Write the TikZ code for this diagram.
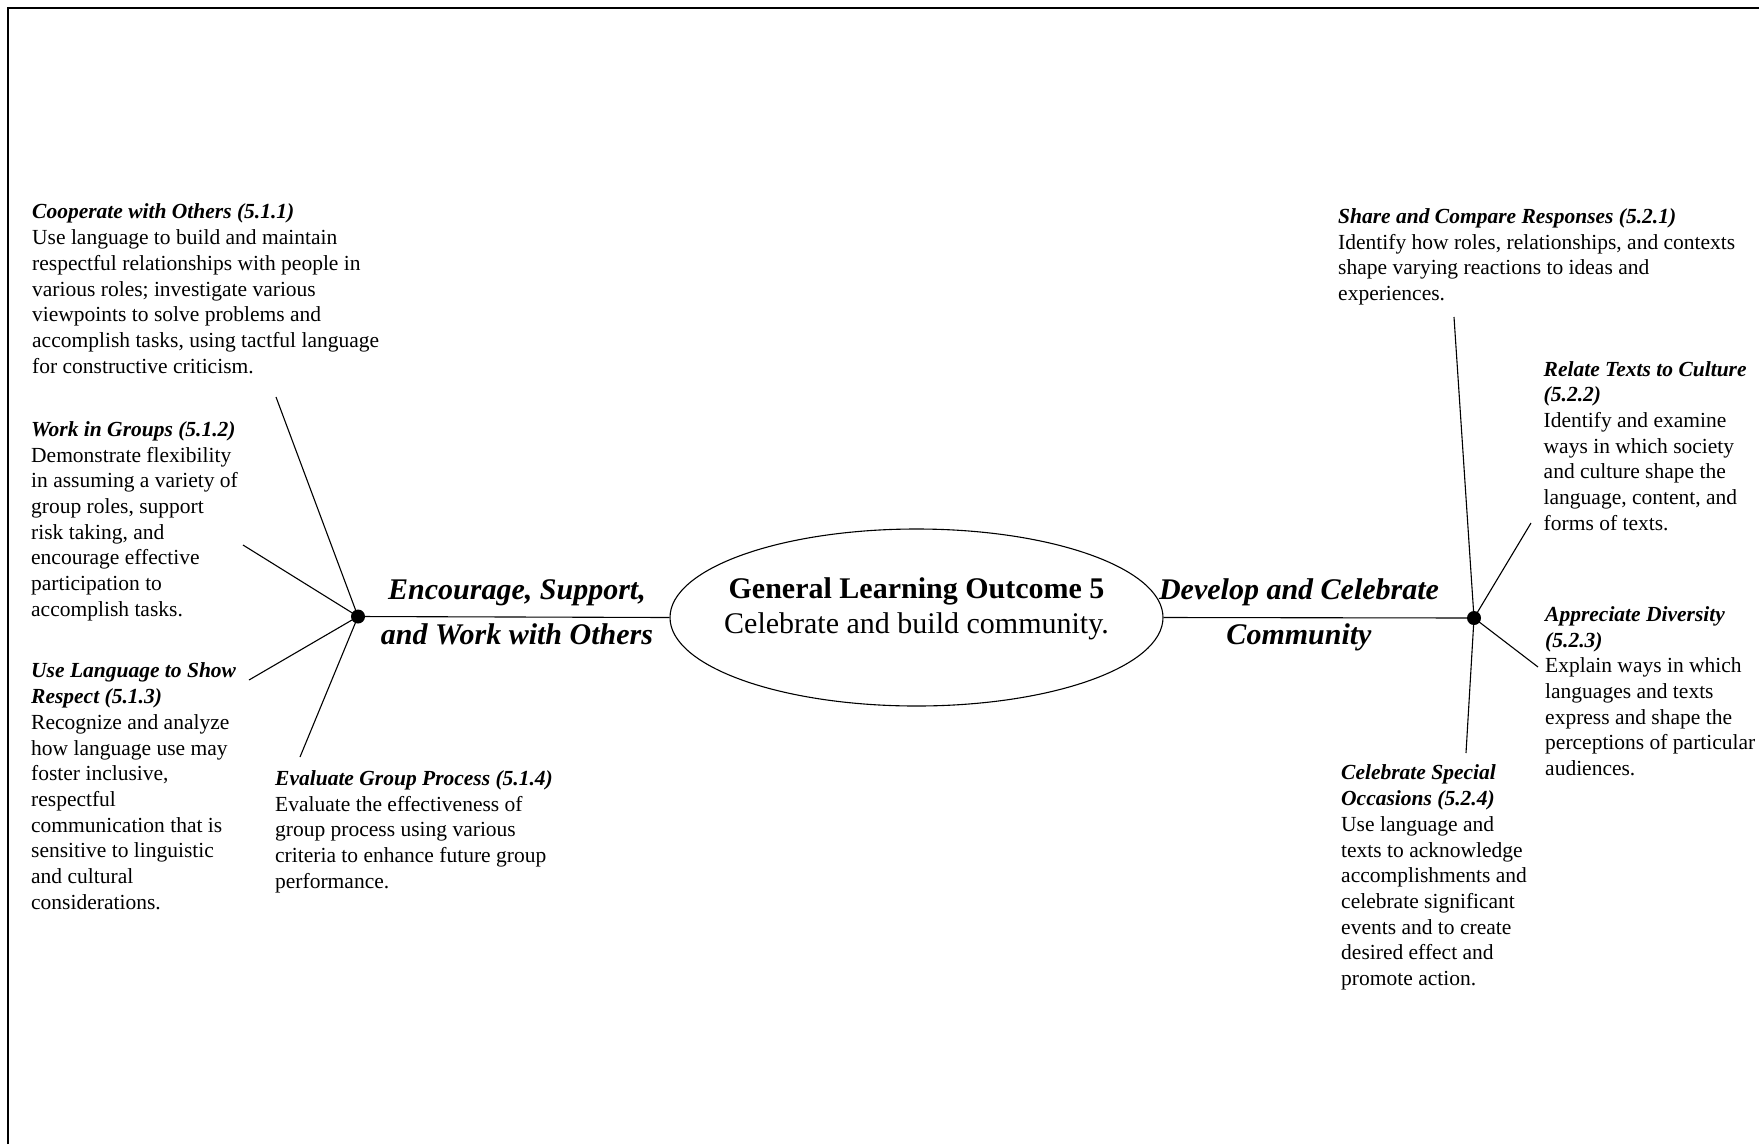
\documentclass[tikz,border=0pt]{standalone}
\usepackage{fontspec}
\setmainfont{Liberation Serif}
\usetikzlibrary{shapes.geometric}
\tikzset{
  body/.style={anchor=north west, inner sep=0pt, align=left, font=\fontsize{21.5}{25.7}\selectfont},
  branch/.style={anchor=base, inner sep=0pt, font=\fontsize{30}{36}\selectfont\bfseries\itshape},
  centre/.style={anchor=base, inner sep=0pt, font=\fontsize{30}{36}\selectfont},
  spoke/.style={line width=1.1pt},
  hub/.style={circle, fill=black, inner sep=0pt, minimum size=14pt},
  frame/.style={line width=2pt},
}
\newcommand{\ttl}[1]{\textbf{\textit{#1}}}
\begin{document}
\begin{tikzpicture}[x=1pt,y=-1pt]
\useasboundingbox (0,0) rectangle (1759,1144);
% frame
\coordinate (fb) at (7.5,1144);
\coordinate (fc) at (7.5,7.5);
\coordinate (fr) at (1759,7.5);
\draw[frame] (fb) -- (fc) -- (fr);

% central ellipse
\node[draw, ellipse, line width=1.1pt, minimum width=493pt, minimum height=177pt, inner sep=0pt] (glo) at (916.5,617.5) {};
\node[centre, font=\fontsize{30}{36}\selectfont\bfseries] (glotitle) at (916.5,598.5) {General Learning Outcome 5};
\node[centre] (glotext) at (916.5,633.5) {Celebrate and build community.};

% hubs
\node[hub] (lhub) at (358,616.5) {};
\node[hub] (rhub) at (1474,618) {};
\draw[spoke] (lhub.center) -- (glo.west);
\draw[spoke] (glo.east) -- (rhub.center);

% branch labels
\node[branch] (lb1) at (517,599.5) {Encourage, Support,};
\node[branch] (lb2) at (517,644.5) {and Work with Others};
\node[branch] (rb1) at (1299,599.5) {Develop and Celebrate};
\node[branch] (rb2) at (1299,644.5) {Community};

% left spokes
\coordinate (l1) at (276,397);
\coordinate (l2) at (243,545);
\coordinate (l3) at (249,680);
\coordinate (l4) at (300,757);
\draw[spoke] (lhub.center) -- (l1);
\draw[spoke] (lhub.center) -- (l2);
\draw[spoke] (lhub.center) -- (l3);
\draw[spoke] (lhub.center) -- (l4);

% right spokes
\coordinate (r1) at (1454,317);
\coordinate (r2) at (1531,523);
\coordinate (r3) at (1538,667);
\coordinate (r4) at (1466,753);
\draw[spoke] (rhub.center) -- (r1);
\draw[spoke] (rhub.center) -- (r2);
\draw[spoke] (rhub.center) -- (r3);
\draw[spoke] (rhub.center) -- (r4);

% left text blocks
\node[body] (t511) at (32,200.8) {\strut\ttl{Cooperate with Others (5.1.1)}\\
Use language to build and maintain\\
respectful relationships with people in\\
various roles; investigate various\\
viewpoints to solve problems and\\
accomplish tasks, using tactful language\\
for constructive criticism.};

\node[body] (t512) at (31,418.2) {\strut\ttl{Work in Groups (5.1.2)}\\
Demonstrate flexibility\\
in assuming a variety of\\
group roles, support\\
risk taking, and\\
encourage effective\\
participation to\\
accomplish tasks.};

\node[body] (t513) at (31,659.7) {\strut\ttl{Use Language to Show}\\
\ttl{Respect (5.1.3)}\\
Recognize and analyze\\
how language use may\\
foster inclusive,\\
respectful\\
communication that is\\
sensitive to linguistic\\
and cultural\\
considerations.};

\node[body] (t514) at (275,767.2) {\strut\ttl{Evaluate Group Process (5.1.4)}\\
Evaluate the effectiveness of\\
group process using various\\
criteria to enhance future group\\
performance.};

% right text blocks
\node[body] (t521) at (1338,205.2) {\strut\ttl{Share and Compare Responses (5.2.1)}\\
Identify how roles, relationships, and contexts\\
shape varying reactions to ideas and\\
experiences.};

\node[body] (t522) at (1543.5,357.9) {\strut\ttl{Relate Texts to Culture}\\
\ttl{(5.2.2)}\\
Identify and examine\\
ways in which society\\
and culture shape the\\
language, content, and\\
forms of texts.};

\node[body] (t523) at (1545,603.2) {\strut\ttl{Appreciate Diversity}\\
\ttl{(5.2.3)}\\
Explain ways in which\\
languages and texts\\
express and shape the\\
perceptions of particular\\
audiences.};

\node[body] (t524) at (1341,761.7) {\strut\ttl{Celebrate Special}\\
\ttl{Occasions (5.2.4)}\\
Use language and\\
texts to acknowledge\\
accomplishments and\\
celebrate significant\\
events and to create\\
desired effect and\\
promote action.};
\end{tikzpicture}
\end{document}
